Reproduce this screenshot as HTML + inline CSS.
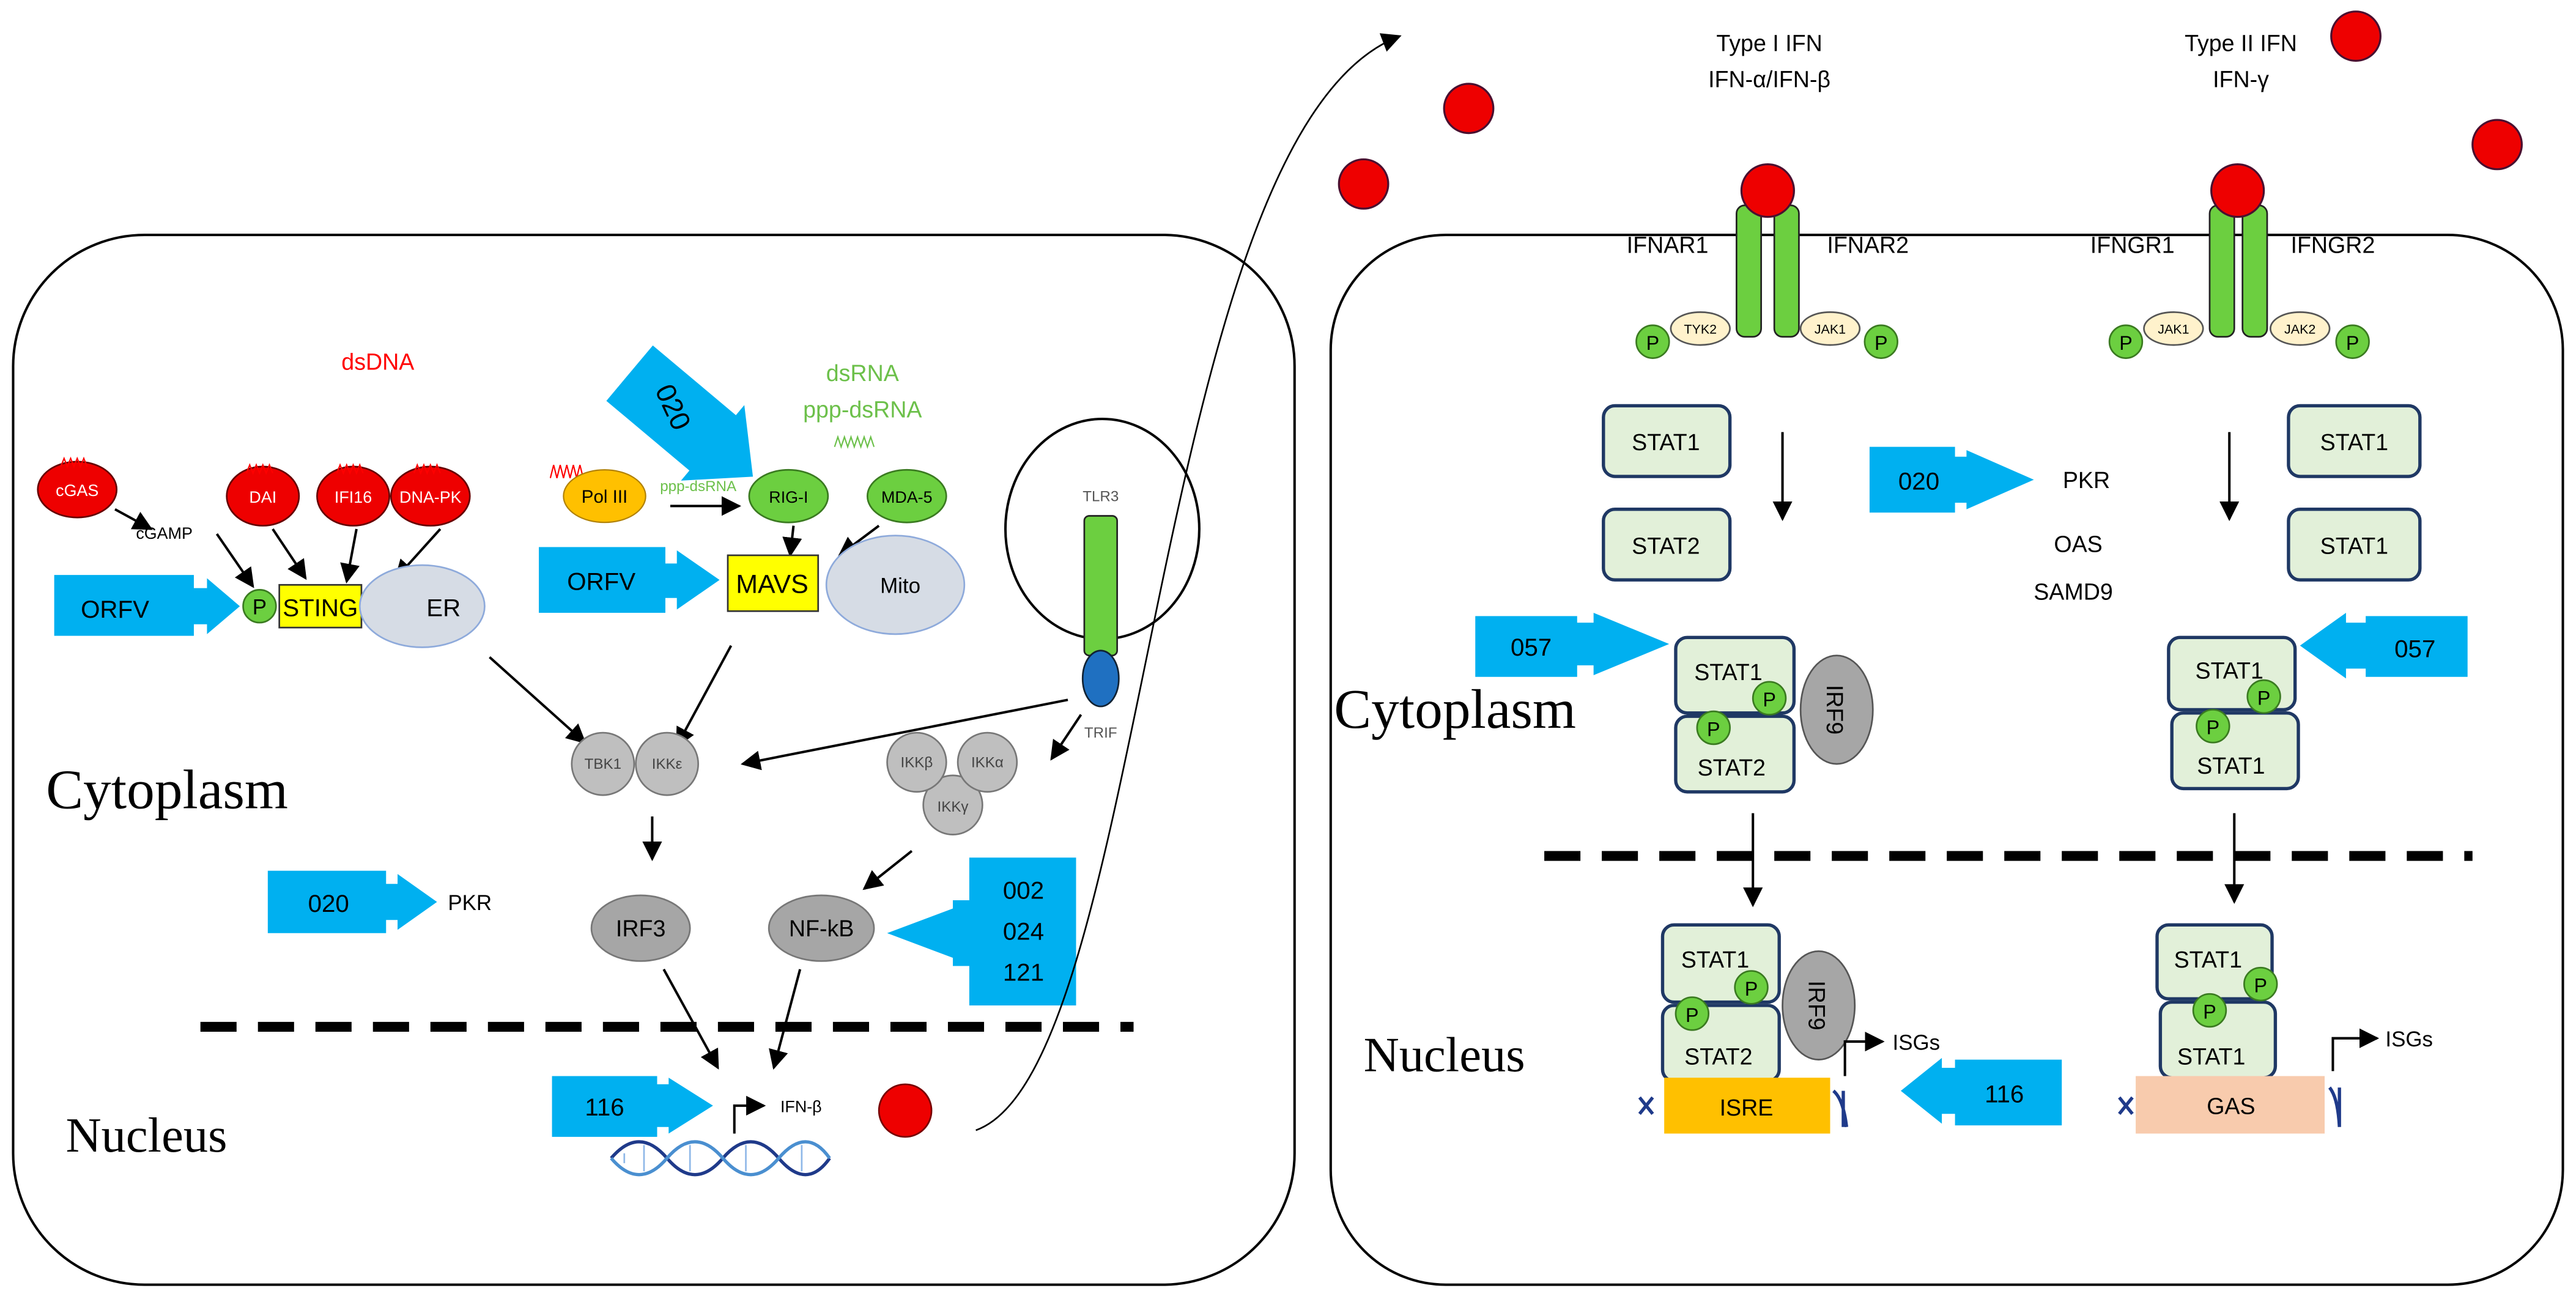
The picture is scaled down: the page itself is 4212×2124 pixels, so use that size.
<!DOCTYPE html>
<html><head><meta charset="utf-8"><style>html,body{margin:0;padding:0;background:#fff}svg{display:block}
text{font-family:"Liberation Sans",sans-serif}
text.serif{font-family:"Liberation Serif",serif}</style></head><body>
<svg width="4212" height="2124" viewBox="0 0 1568 790.7" xmlns="http://www.w3.org/2000/svg">
<defs>
<marker id="a" markerUnits="userSpaceOnUse" markerWidth="12" markerHeight="12" viewBox="0 0 10 10" refX="9" refY="5" orient="auto"><path d="M0,0L10,5L0,10z" fill="#000"/></marker>
</defs>
<rect width="1568" height="791" fill="#fff"/>
<rect x="8" y="143" width="780" height="639" rx="80" fill="none" stroke="#000" stroke-width="1.5"/>
<rect x="810" y="143" width="750" height="639" rx="70" fill="none" stroke="#000" stroke-width="1.5"/>

<text x="230" y="225" font-size="14" fill="#f00" text-anchor="middle">dsDNA</text>
<g stroke="#600" stroke-width="1">
<ellipse cx="47" cy="298" rx="24" ry="17" fill="#e00"/>
<ellipse cx="160" cy="302" rx="22" ry="18" fill="#e00"/>
<ellipse cx="215" cy="302" rx="22" ry="18" fill="#e00"/>
<ellipse cx="262" cy="302" rx="24" ry="18" fill="#e00"/>
</g>
<g font-size="10" fill="#fff" text-anchor="middle">
<text x="47" y="302">cGAS</text><text x="160" y="306">DAI</text><text x="215" y="306">IFI16</text><text x="262" y="306">DNA-PK</text></g>
<g fill="none" stroke="#f00" stroke-width="0.8">
<path d="M37,284l2,-5l2,5l2,-5l2,5l2,-5l2,5l2,-5l2,5"/>
<path d="M150,288l2,-5l2,5l2,-5l2,5l2,-5l2,5l2,-5l2,5"/>
<path d="M205,288l2,-5l2,5l2,-5l2,5l2,-5l2,5l2,-5l2,5"/>
<path d="M252,288l2,-5l2,5l2,-5l2,5l2,-5l2,5l2,-5l2,5"/>
<path d="M335,291l2,-8l2,8l2,-8l2,8l2,-8l2,8l2,-8l2,8l2,-8l2,8"/>
</g>
<text x="100" y="328" font-size="10" text-anchor="middle">cGAMP</text>
<g stroke="#000" stroke-width="1.5" marker-end="url(#a)">
<line x1="70" y1="310" x2="92" y2="322"/>
<line x1="132" y1="325" x2="154" y2="357"/>
<line x1="166" y1="322" x2="186" y2="352"/>
<line x1="217" y1="322" x2="211" y2="354"/>
<line x1="268" y1="322" x2="241" y2="352"/>
<line x1="408" y1="308" x2="450" y2="308"/>
<line x1="483" y1="320" x2="481" y2="338"/>
<line x1="535" y1="320" x2="511" y2="338"/>
<line x1="298" y1="400" x2="356" y2="452"/>
<line x1="445" y1="393" x2="412" y2="454"/>
<line x1="650" y1="426" x2="452" y2="465"/>
<line x1="658" y1="435" x2="640" y2="462"/>
<line x1="397" y1="497" x2="397" y2="523"/>
<line x1="555" y1="518" x2="526" y2="541"/>
<line x1="404" y1="590" x2="437" y2="650"/>
<line x1="487" y1="590" x2="471" y2="650"/>
</g>
<path d="M33,350H118V358H126V352L146,369L126,386V380H118V387H33Z" fill="#00B0F0"/>
<text x="70" y="376" font-size="15" text-anchor="middle">ORFV</text>
<circle cx="158" cy="369" r="10" fill="#6CCF40" stroke="#3a7a20"/>
<text x="158" y="374" font-size="13" text-anchor="middle">P</text>
<rect x="170" y="356" width="50" height="26" fill="#ff0" stroke="#333"/>
<text x="195" y="375" font-size="15" text-anchor="middle">STING</text>
<ellipse cx="257" cy="369" rx="38" ry="25" fill="#D6DCE5" stroke="#8EAADB"/>
<text x="270" y="375" font-size="15" text-anchor="middle">ER</text>
<text x="525" y="232" font-size="14" fill="#6CC04A" text-anchor="middle">dsRNA</text>
<text x="525" y="254" font-size="14" fill="#6CC04A" text-anchor="middle">ppp-dsRNA</text>
<path d="M508,272l2,-6l2,6l2,-6l2,6l2,-6l2,6l2,-6l2,6l2,-6l2,6l2,-6l2,6" fill="none" stroke="#6CC04A" stroke-width="0.8"/>
<g transform="translate(420,258) rotate(40)">
<path d="M-48,-22H18V-30L50,0L18,30V22H-48Z" fill="#00B0F0"/>
<text x="-15" y="0" font-size="17" text-anchor="middle" dominant-baseline="middle" transform="rotate(25 -15 0)">020</text>
</g>
<ellipse cx="368" cy="302" rx="25" ry="16" fill="#FFC000" stroke="#b08000" stroke-width="0.8"/>
<text x="368" y="306" font-size="11" text-anchor="middle">Pol III</text>
<text x="425" y="299" font-size="9" fill="#6CC04A" text-anchor="middle">ppp-dsRNA</text>
<ellipse cx="480" cy="302" rx="24" ry="16" fill="#6CCF40" stroke="#3a7a20"/>
<text x="480" y="306" font-size="10" text-anchor="middle">RIG-I</text>
<ellipse cx="552" cy="302" rx="24" ry="16" fill="#6CCF40" stroke="#3a7a20"/>
<text x="552" y="306" font-size="10" text-anchor="middle">MDA-5</text>
<path d="M328,333H405V343H412V335L438,353L412,371V364H405V373H328Z" fill="#00B0F0"/>
<text x="366" y="359" font-size="15" text-anchor="middle">ORFV</text>
<rect x="443" y="338" width="55" height="34" fill="#ff0" stroke="#333"/>
<text x="470" y="361" font-size="16" text-anchor="middle">MAVS</text>
<ellipse cx="545" cy="356" rx="42" ry="30" fill="#D6DCE5" stroke="#8EAADB"/>
<text x="548" y="361" font-size="13" text-anchor="middle">Mito</text>
<ellipse cx="671" cy="322" rx="59" ry="67" fill="none" stroke="#000" stroke-width="1.5"/>
<rect x="660" y="314" width="20" height="85" rx="3" fill="#6CCF40" stroke="#222"/>
<text x="670" y="305" font-size="9" fill="#555" text-anchor="middle">TLR3</text>
<ellipse cx="670" cy="413" rx="11" ry="17" fill="#1F70C1" stroke="#123"/>
<text x="670" y="449" font-size="9" fill="#555" text-anchor="middle">TRIF</text>
<g fill="#BFBFBF" stroke="#777">
<circle cx="367" cy="465" r="19"/><circle cx="406" cy="465" r="19"/>
<circle cx="580" cy="490" r="18"/><circle cx="558" cy="464" r="18"/><circle cx="601" cy="464" r="18"/>
</g>
<g font-size="9" fill="#444" text-anchor="middle">
<text x="367" y="468">TBK1</text><text x="406" y="468">IKKε</text>
<text x="558" y="467">IKKβ</text><text x="601" y="467">IKKα</text><text x="580" y="494">IKKγ</text></g>
<text class="serif" x="28" y="492" font-size="34">Cytoplasm</text>
<ellipse cx="390" cy="565" rx="30" ry="20" fill="#A6A6A6" stroke="#777"/>
<text x="390" y="570" font-size="14" text-anchor="middle">IRF3</text>
<ellipse cx="500" cy="565" rx="32" ry="20" fill="#A6A6A6" stroke="#777"/>
<text x="500" y="570" font-size="14" text-anchor="middle">NF-kB</text>
<path d="M163,530H235V538H242V532L266,549L242,566V560H235V568H163Z" fill="#00B0F0"/>
<text x="200" y="555" font-size="15" text-anchor="middle">020</text>
<text x="286" y="554" font-size="13" text-anchor="middle">PKR</text>
<path d="M590,522H655V612H590V588H580V583L540,568L580,553V548H590Z" fill="#00B0F0"/>
<text x="623" y="547" font-size="15" text-anchor="middle">002</text>
<text x="623" y="572" font-size="15" text-anchor="middle">024</text>
<text x="623" y="597" font-size="15" text-anchor="middle">121</text>
<line x1="122" y1="625" x2="690" y2="625" stroke="#000" stroke-width="6" stroke-dasharray="22 13"/>
<text class="serif" x="40" y="701" font-size="30">Nucleus</text>
<path d="M336,655H400V660H407V656L434,673L407,690V686H400V692H336Z" fill="#00B0F0"/>
<text x="368" y="679" font-size="15" text-anchor="middle">116</text>
<path d="M447,690V673H465" fill="none" stroke="#000" stroke-width="1.5" marker-end="url(#a)"/>
<text x="475" y="677" font-size="10">IFN-β</text>
<g fill="none" stroke-width="2">
<path d="M372,705 Q389,685 406,705 T440,705 T474,705 T505,705" stroke="#1F3A8A"/>
<path d="M372,705 Q389,725 406,705 T440,705 T474,705 T505,705" stroke="#4a8fd0"/>
<path d="M380,702V708M392,697V713M420,697V713M454,697V713M488,697V713" stroke="#8fb8e8" stroke-width="1"/>
</g>
<circle cx="551" cy="676" r="16" fill="#e00" stroke="#700"/>
<path d="M594,688 C700,650 700,80 852,22" fill="none" stroke="#000" stroke-width="1" marker-end="url(#a)"/>

<g fill="#e00" stroke="#4a1030" stroke-width="1.2">
<circle cx="830" cy="112" r="15"/><circle cx="894" cy="66" r="15"/><circle cx="1434" cy="22" r="15"/><circle cx="1520" cy="88" r="15"/>
</g>
<g font-size="14" text-anchor="middle">
<text x="1077" y="31">Type I IFN</text><text x="1077" y="53">IFN-α/IFN-β</text>
<text x="1364" y="31">Type II IFN</text><text x="1364" y="53">IFN-γ</text>
<text x="1015" y="154">IFNAR1</text><text x="1137" y="154">IFNAR2</text>
<text x="1298" y="154">IFNGR1</text><text x="1420" y="154">IFNGR2</text>
</g>
<g fill="#6CCF40" stroke="#222">
<rect x="1057" y="125" width="15" height="80" rx="5"/><rect x="1080" y="125" width="15" height="80" rx="5"/>
<rect x="1345" y="125" width="15" height="80" rx="5"/><rect x="1365" y="125" width="15" height="80" rx="5"/>
</g>
<g fill="#e00" stroke="#4a1030" stroke-width="1.2"><circle cx="1076" cy="116" r="16"/><circle cx="1362" cy="116" r="16"/></g>
<g fill="#FFF2CC" stroke="#555"><ellipse cx="1035" cy="200" rx="18" ry="10"/><ellipse cx="1114" cy="200" rx="18" ry="10"/><ellipse cx="1323" cy="200" rx="18" ry="10"/><ellipse cx="1400" cy="200" rx="18" ry="10"/></g>
<g font-size="8" text-anchor="middle"><text x="1035" y="203">TYK2</text><text x="1114" y="203">JAK1</text><text x="1323" y="203">JAK1</text><text x="1400" y="203">JAK2</text></g>
<g fill="#6CCF40" stroke="#3a7a20">
<circle cx="1006" cy="208" r="10"/><circle cx="1145" cy="208" r="10"/><circle cx="1294" cy="208" r="10"/><circle cx="1432" cy="208" r="10"/>
</g>
<g font-size="12" text-anchor="middle"><text x="1006" y="213">P</text><text x="1145" y="213">P</text><text x="1294" y="213">P</text><text x="1432" y="213">P</text></g>
<g fill="#E2F0D9" stroke="#1F3864" stroke-width="2">
<rect x="976" y="247" width="77" height="43" rx="7"/><rect x="976" y="310" width="77" height="43" rx="7"/>
<rect x="1393" y="247" width="80" height="43" rx="7"/><rect x="1393" y="310" width="80" height="43" rx="7"/>
<rect x="1020" y="388" width="72" height="46" rx="7"/><rect x="1020" y="436" width="72" height="46" rx="7"/>
<rect x="1320" y="388" width="77" height="44" rx="7"/><rect x="1322" y="434" width="77" height="46" rx="7"/>
<rect x="1012" y="563" width="71" height="47" rx="7"/><rect x="1012" y="612" width="71" height="46" rx="7"/>
<rect x="1313" y="563" width="70" height="45" rx="7"/><rect x="1315" y="610" width="70" height="46" rx="7"/>
</g>
<g fill="#A6A6A6" stroke="#555"><ellipse cx="1118" cy="432" rx="22" ry="33"/><ellipse cx="1107" cy="612" rx="22" ry="33"/></g>
<text font-size="14" transform="translate(1112,432) rotate(90)" text-anchor="middle">IRF9</text>
<text font-size="14" transform="translate(1101,612) rotate(90)" text-anchor="middle">IRF9</text>
<g font-size="14" text-anchor="middle">
<text x="1014" y="274">STAT1</text><text x="1014" y="337">STAT2</text>
<text x="1433" y="274">STAT1</text><text x="1433" y="337">STAT1</text>
<text x="1052" y="414">STAT1</text><text x="1054" y="472">STAT2</text>
<text x="1357" y="413">STAT1</text><text x="1358" y="471">STAT1</text>
<text x="1044" y="589">STAT1</text><text x="1046" y="648">STAT2</text>
<text x="1344" y="589">STAT1</text><text x="1346" y="648">STAT1</text>
<text x="1270" y="297">PKR</text><text x="1265" y="336">OAS</text><text x="1262" y="365">SAMD9</text>
</g>
<g fill="#6CCF40" stroke="#3a7a20">
<circle cx="1077" cy="425" r="10"/><circle cx="1043" cy="443" r="10"/>
<circle cx="1378" cy="424" r="10"/><circle cx="1347" cy="442" r="10"/>
<circle cx="1066" cy="601" r="10"/><circle cx="1030" cy="617" r="10"/>
<circle cx="1376" cy="599" r="10"/><circle cx="1345" cy="615" r="10"/>
</g>
<g font-size="12" text-anchor="middle">
<text x="1077" y="430">P</text><text x="1043" y="448">P</text><text x="1378" y="429">P</text><text x="1347" y="447">P</text>
<text x="1066" y="606">P</text><text x="1030" y="622">P</text><text x="1376" y="604">P</text><text x="1345" y="620">P</text>
</g>
<g stroke="#000" stroke-width="1.5" marker-end="url(#a)">
<line x1="1085" y1="263" x2="1085" y2="316"/>
<line x1="1357" y1="263" x2="1357" y2="316"/>
<line x1="1067" y1="495" x2="1067" y2="551"/>
<line x1="1360" y1="495" x2="1360" y2="549"/>
</g>
<path d="M1138,272H1190V278H1197V274L1238,292L1197,310V306H1190V312H1138Z" fill="#00B0F0"/>
<text x="1168" y="298" font-size="15" text-anchor="middle">020</text>
<path d="M898,375H960V379H970V373L1016,392L970,411V405H960V412H898Z" fill="#00B0F0"/>
<text x="932" y="399" font-size="15" text-anchor="middle">057</text>
<path d="M1502,375H1440V379H1428V373L1400,393L1428,413V407H1440V412H1502Z" fill="#00B0F0"/>
<text x="1470" y="400" font-size="15" text-anchor="middle">057</text>
<text class="serif" x="812" y="443" font-size="34">Cytoplasm</text>
<line x1="940" y1="521" x2="1505" y2="521" stroke="#000" stroke-width="6" stroke-dasharray="22 13"/>
<text class="serif" x="830" y="652" font-size="30">Nucleus</text>
<g fill="none" stroke-width="2">
<path d="M998,678 l8,-10 M998,668 l8,10 M1116,664 q6,5 8,22 M1122,664 v22 M1290,678 l8,-10 M1290,668 l8,10 M1418,662 q5,6 6,24 M1424,662 v24" stroke="#1F3A8A"/>
</g>
<rect x="1013" y="656" width="101" height="34" fill="#FFC000"/>
<text x="1063" y="679" font-size="14" text-anchor="middle">ISRE</text>
<rect x="1300" y="655" width="115" height="35" fill="#F8CBAD"/>
<text x="1358" y="678" font-size="14" text-anchor="middle">GAS</text>
<path d="M1123,655V634H1146" fill="none" stroke="#000" stroke-width="1.5" marker-end="url(#a)"/>
<text x="1152" y="639" font-size="13">ISGs</text>
<path d="M1420,652V632H1447" fill="none" stroke="#000" stroke-width="1.5" marker-end="url(#a)"/>
<text x="1452" y="637" font-size="13">ISGs</text>
<path d="M1255,645H1190V650H1182V644L1157,664L1182,684V678H1190V685H1255Z" fill="#00B0F0"/>
<text x="1220" y="671" font-size="15" text-anchor="middle">116</text>
</svg>
</body></html>
